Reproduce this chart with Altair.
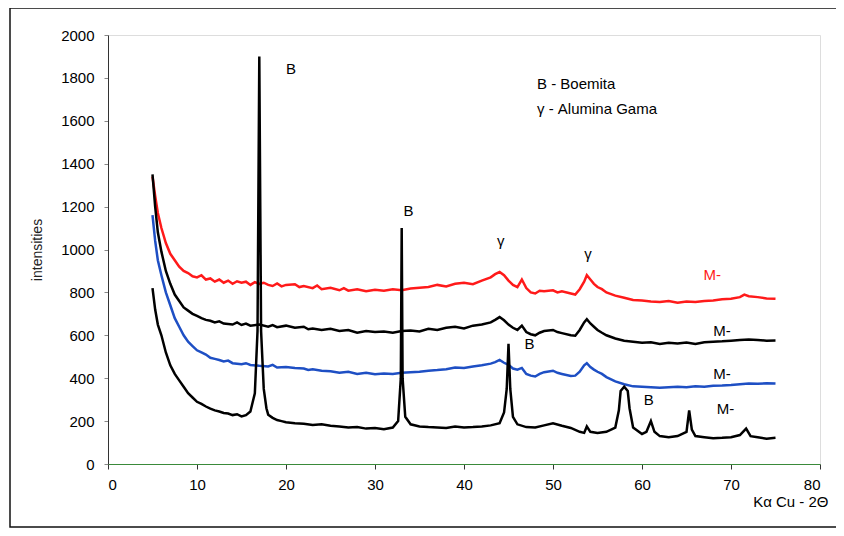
import altair as alt
import pandas as pd

# ---- data ----
red_x = [5, 5.3, 5.6, 6, 6.5, 7, 7.5, 8, 8.5, 9, 9.5, 10, 10.5, 11, 11.5, 12, 12.5, 13, 13.5, 14, 14.5, 15, 15.5, 16, 16.5, 17, 17.5, 18, 18.5, 19, 19.5, 20, 21, 21.5, 22, 23, 23.5, 24, 25, 26, 26.5, 27, 28, 29, 30, 31, 32, 33, 34, 35, 36, 37, 38, 39, 40, 41, 42, 43, 43.5, 44, 44.5, 45, 45.5, 46, 46.5, 47, 47.5, 48, 48.5, 49, 50, 50.5, 51, 52, 52.5, 53, 53.5, 53.8, 54.2, 54.6, 55, 55.5, 56, 57, 58, 59, 60, 61, 62, 63, 64, 65, 66, 67, 68, 69, 70, 71, 71.5, 72, 73, 74, 75]
red_y = [1340, 1250, 1170, 1100, 1030, 980, 950, 920, 900, 890, 875, 870, 880, 860, 865, 850, 860, 845, 855, 840, 852, 845, 850, 835, 848, 840, 845, 835, 830, 842, 828, 835, 838, 825, 830, 820, 832, 815, 822, 810, 820, 808, 815, 805, 812, 808, 815, 810, 818, 822, 825, 835, 828, 840, 845, 838, 855, 870, 885, 895, 880, 855, 835, 825, 860, 820, 800, 795, 808, 805, 810, 800, 805, 795, 790, 815, 850, 880, 860, 840, 825, 815, 800, 785, 775, 765, 762, 758, 755, 760, 752, 758, 755, 760, 762, 768, 770, 778, 790, 782, 778, 772, 770]

blk1_x = [5, 5.3, 5.6, 6, 6.5, 7, 7.5, 8, 8.5, 9, 9.5, 10, 10.5, 11, 11.5, 12, 12.5, 13, 14, 14.5, 15, 15.5, 16, 17, 18, 18.5, 19, 20, 21, 22, 22.5, 23, 24, 25, 26, 27, 28, 29, 30, 31, 32, 33, 34, 35, 36, 37, 38, 39, 40, 41, 42, 43, 43.5, 44, 44.5, 45, 45.5, 46, 46.5, 47, 47.5, 48, 48.5, 49, 50, 50.5, 51, 52, 52.5, 53, 53.5, 53.8, 54.2, 54.6, 55, 55.5, 56, 57, 58, 59, 60, 61, 62, 63, 64, 65, 66, 67, 68, 69, 70, 71, 72, 73, 74, 75]
blk1_y = [1350, 1200, 1080, 990, 900, 840, 790, 760, 730, 715, 700, 690, 680, 672, 668, 660, 665, 655, 650, 660, 648, 655, 645, 650, 640, 648, 638, 645, 635, 640, 628, 632, 625, 630, 620, 625, 612, 620, 615, 618, 612, 620, 622, 618, 630, 625, 635, 640, 632, 645, 650, 660, 672, 685, 670, 650, 635, 625, 645, 615, 605, 600, 612, 620, 625, 615, 610, 600, 598, 625, 660, 675, 655, 640, 625, 612, 600, 585, 575, 570, 565, 568, 560, 565, 562, 566, 560, 568, 570, 572, 575, 578, 580, 578, 575, 576]

blue_x = [5, 5.3, 5.6, 6, 6.5, 7, 7.5, 8, 8.5, 9, 9.5, 10, 10.5, 11, 11.5, 12, 12.5, 13, 13.5, 14, 15, 15.5, 16, 17, 18, 18.5, 19, 20, 21, 22, 22.5, 23, 24, 25, 26, 27, 28, 29, 30, 31, 32, 33, 34, 35, 36, 37, 38, 39, 40, 41, 42, 43, 43.5, 44, 44.5, 45, 45.5, 46, 46.5, 47, 47.5, 48, 48.5, 49, 50, 50.5, 51, 52, 52.5, 53, 53.5, 53.8, 54.2, 54.6, 55, 55.5, 56, 57, 58, 59, 60, 61, 62, 63, 64, 65, 66, 67, 68, 69, 70, 71, 72, 73, 74, 75]
blue_y = [1160, 1040, 950, 880, 800, 740, 680, 640, 600, 570, 550, 530, 520, 510, 495, 490, 485, 478, 482, 470, 465, 470, 462, 458, 455, 462, 450, 452, 448, 445, 438, 442, 435, 432, 425, 430, 420, 425, 418, 422, 420, 425, 428, 430, 435, 438, 442, 450, 448, 455, 460, 468, 475, 485, 472, 462, 445, 440, 448, 420, 412, 408, 420, 428, 435, 425, 420, 410, 412, 430, 460, 470, 452, 440, 430, 420, 405, 385, 372, 362, 360, 358, 356, 358, 360, 358, 362, 360, 365, 366, 368, 372, 375, 374, 376, 375]

blk2_x = [5, 5.3, 5.6, 6, 6.5, 7, 7.5, 8, 8.5, 9, 9.5, 10, 10.5, 11, 11.5, 12, 12.5, 13, 13.5, 14, 14.5, 15, 15.5, 16, 16.5, 16.8, 17, 17.2, 17.5, 17.8, 18, 18.5, 19, 19.5, 20, 21, 22, 23, 24, 25, 26, 27, 28, 29, 30, 31, 32, 32.6, 32.9, 33, 33.1, 33.4, 34, 35, 36, 37, 38, 39, 40, 41, 42, 43, 44, 44.5, 44.8, 45, 45.2, 45.5, 46, 47, 48, 49, 50, 51, 52, 53, 53.5, 53.8, 54.2, 55, 56, 57, 57.4, 57.6, 58, 58.4, 58.6, 59, 60, 60.5, 61, 61.4, 62, 63, 64, 65, 65.3, 65.6, 66, 67, 68, 69, 70, 71, 71.7, 72.2, 73, 74, 75]
blk2_y = [820, 720, 650, 600, 520, 460, 420, 390, 360, 330, 310, 290, 280, 268, 258, 250, 245, 238, 235, 228, 232, 222, 228, 245, 330, 620, 1900, 620, 350, 260, 230, 215, 205, 200, 195, 190, 188, 182, 185, 178, 175, 170, 172, 165, 168, 162, 170, 200, 400, 1100, 400, 220, 185, 175, 172, 170, 168, 175, 170, 172, 175, 180, 190, 240, 350, 560, 350, 220, 185, 172, 170, 180, 190, 178, 168, 150, 145, 175, 150, 145, 150, 170, 250, 340, 360, 340, 260, 170, 140, 150, 200, 150, 130, 125, 130, 150, 250, 160, 130, 125, 120, 122, 125, 135, 165, 130, 125, 118, 122]

series_names = ["red", "black1", "blue", "black2"]
series_colors = ["#ff1a1a", "#000000", "#1e4fc4", "#000000"]

# annotations
ann_text = ["B", "B", "γ", "γ", "B", "B", "M-", "M-", "M-", "M-", "B - Boemita", "γ - Alumina Gama"]
ann_x = [20.0, 33.2, 43.7, 53.5, 46.8, 60.2, 66.9, 68.0, 68.0, 68.4, 48.2, 48.2]
ann_y = [1840, 1180, 1040, 980, 560, 300, 880, 620, 420, 255, 1770, 1655]
ann_color = ["#000000"] * 6 + ["#ff1a1a", "#000000", "#000000", "#000000"] + ["#000000", "#000000"]

x_ticks = [0, 10, 20, 30, 40, 50, 60, 70, 80]
y_ticks = [0, 200, 400, 600, 800, 1000, 1200, 1400, 1600, 1800, 2000]

rows = []
for name, xs, ys in [("red", red_x, red_y), ("black1", blk1_x, blk1_y),
                     ("blue", blue_x, blue_y), ("black2", blk2_x, blk2_y)]:
    for i, (a, b) in enumerate(zip(xs, ys)):
        rows.append({"series": name, "x": a, "y": b, "order": i})
df = pd.DataFrame(rows)

ann = pd.DataFrame({"t": ann_text, "x": ann_x, "y": ann_y, "c": ann_color})

FONT = "Liberation Sans"
W, H = 712, 429

xscale = alt.Scale(domain=[0, 80], nice=False, zero=False)
yscale = alt.Scale(domain=[0, 2000], nice=False)

lines = alt.Chart(df).mark_line(strokeWidth=2.5, interpolate="linear").encode(
    x=alt.X("x:Q", scale=xscale,
            axis=alt.Axis(values=x_ticks, title="Kα Cu - 2Θ", grid=False, format="d",
                          labelFont=FONT, labelFontSize=15, labelColor="#000",
                          labelPadding=8, tickSize=5, tickColor="#333",
                          domainColor="#3a8a3a", domainWidth=1,
                          titleFont=FONT, titleFontSize=15, titleFontWeight="normal",
                          titleAnchor="end", titleAlign="right", titleBaseline="top",
                          titleX=W + 8, titleY=30, titleColor="#000")),
    y=alt.Y("y:Q", scale=yscale,
            axis=alt.Axis(values=y_ticks, title="intensities", grid=False, format="d",
                          labelFont=FONT, labelFontSize=15, labelColor="#000",
                          labelPadding=10, tickSize=4, tickColor="#888",
                          domainColor="#333", domainWidth=1,
                          titleFont=FONT, titleFontSize=14, titleFontWeight="normal",
                          titleColor="#222", titlePadding=16)),
    color=alt.Color("series:N", scale=alt.Scale(domain=series_names, range=series_colors), legend=None),
    detail="series:N",
    order="order:Q",
)

labels = alt.Chart(ann).mark_text(font=FONT, fontSize=15, align="left", baseline="middle").encode(
    x=alt.X("x:Q", scale=xscale),
    y=alt.Y("y:Q", scale=yscale),
    text="t:N",
    color=alt.Color("c:N", scale=None),
)

frame = alt.Chart(pd.DataFrame({"a": [0]})).mark_rect(
    fill=None, stroke="#111", strokeWidth=1.5
).encode(x=alt.value(-98), x2=alt.value(W + 22), y=alt.value(-27), y2=alt.value(H + 63))

chart = alt.layer(lines, labels, frame).properties(
    width=W, height=H,
    autosize=alt.AutoSizeParams(type="none"),
    padding={"left": 100, "top": 27, "right": 16, "bottom": 64},
).configure_view(stroke="#555", strokeWidth=1).configure(background="white")

chart.save("out.html", embed_options={"renderer": "svg", "actions": False})
